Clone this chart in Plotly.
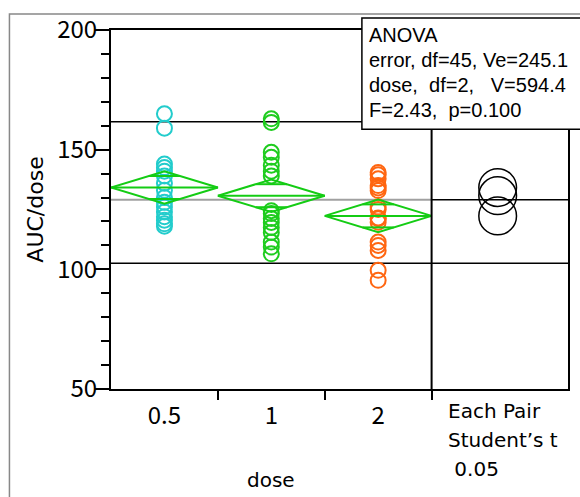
import numpy as np
import plotly.graph_objects as go

# ---- data -------------------------------------------------------------
doses = ["0.5", "1", "2"]
auc_05 = [165, 159, 144, 142.5, 141, 139, 136, 133, 130, 128, 126, 124, 122, 120.5, 119, 118]
auc_1 = [162.9, 161.4, 148.9, 146.8, 143.5, 141, 139, 124.5, 123.3, 121.25, 119.6, 117.5,
         115.4, 111.4, 109.3, 106.5]
auc_2 = [140.5, 139.5, 137.8, 135, 134, 132.9, 126, 125, 121.5, 121.1, 119.7, 111.4,
         110, 107.9, 99.6, 95.4]
groups = [auc_05, auc_1, auc_2]
colors = ["#22CCCC", "#1ECC1E", "#FF6611"]

ref_lines = [161.7, 102.5]          # horizontal reference lines
mse, df_err = 245.1, 45             # ANOVA error mean square and df
t_crit = 2.014                      # Student's t, alpha 0.05, 45 df
diamond_half = 6.8                  # half height of the means diamonds

anova_lines = ["ANOVA",
               "error, df=45, Ve=245.1",
               "dose,\u00a0\u00a0df=2,\u00a0\u00a0\u00a0V=594.4",
               "F=2.43,\u00a0\u00a0p=0.100"]
test_lines = ["Each Pair", "Student\u2019s t", "\u00a00.05"]

# ---- geometry of the plotting area -------------------------------------
W, H = 580, 497
ML, MR, MT, MB = 111, 10, 29, 108
plot_w = W - ML - MR
plot_h = H - MT - MB
group_px = 322 / 3
x_max = 3 + (plot_w - 322) / group_px
y_lo, y_hi = 50, 200
px_per_y = plot_h / (y_hi - y_lo)


def py_to_paper(py):
    return (H - MB - py) / plot_h


def px_to_paper(px):
    return (px - ML) / plot_w


SANS = "Liberation Sans, Arial, sans-serif"
WIDE = "DejaVu Sans, sans-serif"
TALL = "Noto Sans CJK JP, sans-serif"
GREEN = "#14CC14"

fig = go.Figure()

means = [float(np.mean(g)) for g in groups]
grand = float(np.mean(np.concatenate(groups)))

# reference lines
for yv in ref_lines:
    fig.add_trace(go.Scatter(x=[0, x_max], y=[yv, yv], mode="lines",
                             line=dict(color="black", width=1.5), hoverinfo="skip"))
fig.add_trace(go.Scatter(x=[0, 3], y=[grand, grand], mode="lines",
                         line=dict(color="#A0A0A0", width=2), hoverinfo="skip"))
fig.add_trace(go.Scatter(x=[3, x_max], y=[grand, grand], mode="lines",
                         line=dict(color="black", width=1.5), hoverinfo="skip"))

# points
for i, (vals, col) in enumerate(zip(groups, colors)):
    fig.add_trace(go.Scatter(
        x=[i + 0.5] * len(vals), y=vals, mode="markers",
        marker=dict(symbol="circle-open", size=15, color=col, line=dict(width=2, color=col)),
        hoverinfo="skip"))

# means diamonds with overlap marks
k = 0.5 * (1 - 1 / np.sqrt(2))
for i, m in enumerate(means):
    g = i
    fig.add_trace(go.Scatter(
        x=[g, g + 0.5, g + 1, g + 0.5, g], y=[m, m + diamond_half, m, m - diamond_half, m],
        mode="lines", line=dict(color=GREEN, width=2), hoverinfo="skip"))
    fig.add_trace(go.Scatter(x=[g, g + 1], y=[m, m], mode="lines",
                             line=dict(color=GREEN, width=2), hoverinfo="skip"))
    off = diamond_half / np.sqrt(2)
    for s in (1, -1):
        fig.add_trace(go.Scatter(x=[g + 0.5 - k, g + 0.5 + k], y=[m + s * off, m + s * off],
                                 mode="lines", line=dict(color=GREEN, width=2),
                                 hoverinfo="skip"))

shapes = []
# separator of the comparison-circle panel
shapes.append(dict(type="line", xref="x", yref="y", x0=3, x1=3, y0=y_lo, y1=y_hi,
                   line=dict(color="black", width=2)))

# comparison circles
r = t_crit * np.sqrt(mse / len(auc_05))
rx = r * px_per_y / group_px
cx = 3 + (x_max - 3) / 2 - 0.02
for m in means:
    shapes.append(dict(type="circle", xref="x", yref="y", x0=cx - rx, x1=cx + rx,
                       y0=m - r, y1=m + r, line=dict(color="black", width=1.5),
                       layer="above"))

# outer frame
shapes.append(dict(type="rect", xref="paper", yref="paper",
                   x0=px_to_paper(9), x1=1.3, y0=-0.6, y1=py_to_paper(13),
                   line=dict(color="#888888", width=1.5), layer="above"))
# ANOVA box
shapes.append(dict(type="rect", xref="paper", yref="paper",
                   x0=px_to_paper(363), x1=1.2, y0=py_to_paper(128.5), y1=py_to_paper(17),
                   line=dict(color="black", width=1.5), fillcolor="white", layer="above"))

annotations = []
for j, txt in enumerate(anova_lines):
    annotations.append(dict(text=txt, xref="paper", yref="paper", x=px_to_paper(368),
                            y=py_to_paper(34 + 25 * j), xanchor="left", yanchor="middle",
                            showarrow=False, font=dict(family=SANS, size=20, color="black")))
for j, txt in enumerate(test_lines):
    annotations.append(dict(text=txt, xref="paper", yref="paper", x=px_to_paper(447),
                            y=py_to_paper(411 + 29 * j), xanchor="left", yanchor="middle",
                            showarrow=False, font=dict(family=WIDE, size=20, color="black")))
annotations.append(dict(text="dose", xref="x", yref="paper", x=1.5, y=py_to_paper(480),
                        xanchor="center", yanchor="middle", showarrow=False,
                        font=dict(family=WIDE, size=20, color="black")))

fig.update_layout(
    width=W, height=H, margin=dict(l=ML, r=MR, t=MT, b=MB),
    paper_bgcolor="white", plot_bgcolor="white", showlegend=False,
    font=dict(family=WIDE, size=19, color="black"),
    shapes=shapes, annotations=annotations,
    xaxis=dict(range=[0, x_max], tickvals=[0.5, 1.5, 2.5], ticktext=doses, ticks="",
               ticklabelstandoff=4, showgrid=False, zeroline=False,
               showline=True, linecolor="black", linewidth=2, mirror=True,
               tickfont=dict(family=TALL, size=24),
               minor=dict(tickvals=[1, 2, 3], ticks="outside", ticklen=9,
                          tickwidth=2, tickcolor="black", showgrid=False)),
    yaxis=dict(range=[y_lo, y_hi], tickvals=[50, 100, 150, 200], ticks="outside",
               ticklen=14, tickwidth=2, tickcolor="black", showgrid=False, zeroline=False,
               showline=True, linecolor="black", linewidth=2, mirror=True,
               ticklabelstandoff=-7,
               tickfont=dict(family=TALL, size=24),
               title=dict(text="AUC/dose", standoff=8, font=dict(family=WIDE, size=22)),
               minor=dict(dtick=10, tick0=0, ticks="outside", ticklen=8, tickwidth=2,
                          tickcolor="black", showgrid=False)),
)

fig.write_html("out.html")
